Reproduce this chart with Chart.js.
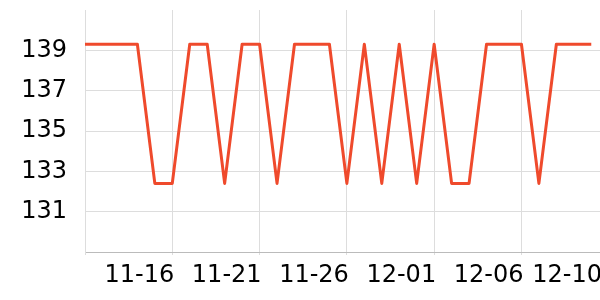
<!DOCTYPE html>
<html>
<head>
<meta charset="utf-8">
<script src="https://cdn.jsdelivr.net/npm/chart.js@4/dist/chart.umd.min.js"></script>
<style>
  html, body { margin: 0; padding: 0; background: #fff; }
</style>
</head>
<body>
<canvas id="priceChart" width="600" height="300"></canvas>
<script>
const dates = ["11-11", "11-12", "11-13", "11-14", "11-15", "11-16", "11-17", "11-18", "11-19", "11-20",
    "11-21", "11-22", "11-23", "11-24", "11-25", "11-26", "11-27", "11-28", "11-29", "11-30",
    "12-01", "12-02", "12-03", "12-04", "12-05", "12-06", "12-07", "12-08", "12-09", "12-10"]
const values = [139.3, 139.3, 139.3, 139.3, 132.4, 132.4, 139.3, 139.3, 132.4, 139.3,
    139.3, 132.4, 139.3, 139.3, 139.3, 132.4, 139.3, 132.4, 139.3, 132.4,
    139.3, 132.4, 132.4, 139.3, 139.3, 139.3, 132.4, 139.3, 139.3, 139.3]
const yTicks = [131, 133, 135, 137, 139]

const xMax = dates.length - 0.5
const lineColor = "#ef4a2c"

const ctx = document.getElementById('priceChart').getContext('2d');

// Store the chart instance on the canvas element
ctx.canvas.chart = new Chart(ctx, {
    type: 'line',
    data: {
        datasets: [{
            data: values.map((v, i) => ({x: i, y: v})),
            borderColor: lineColor,
            backgroundColor: lineColor,
            borderWidth: 3,
            borderJoinStyle: 'round',
            pointRadius: 0,
            tension: 0,
        }]
    },
    options: {
        responsive: false,
        animation: false,
        layout: {
            padding: {top: 10, right: 0, left: 0, bottom: 0}
        },
        plugins: {
            legend: {display: false},
            tooltip: {enabled: false},
        },
        scales: {
            x: {
                type: 'linear',
                min: 0,
                max: xMax,
                afterBuildTicks: (scale) => {
                    // a tick every 5 days, plus the last day at the right edge
                    const t = []
                    for (let i = 0; i < dates.length; i += 5) t.push({value: i})
                    t.push({value: xMax})
                    scale.ticks = t
                },
                afterFit: (scale) => {
                    scale.height = 48
                    scale.paddingLeft = 0
                    scale.paddingRight = 0
                },
                grid: {
                    color: (c) => (c.tick && c.tick.value === xMax) ? 'rgba(0,0,0,0)' : '#dddddd',
                    tickLength: 3,
                },
                border: {color: '#bbbbbb'},
                ticks: {
                    autoSkip: false,
                    maxRotation: 0,
                    align: 'end',
                    labelOffset: 2,
                    padding: 6,
                    color: '#000',
                    font: {family: 'DejaVu Sans', size: 24},
                    callback: (value) => {
                        if (value === xMax) return dates[dates.length - 1]
                        if (value === 0) return ''
                        return dates[value]
                    }
                }
            },
            y: {
                min: 129,
                max: 141,
                afterBuildTicks: (scale) => {
                    scale.ticks = yTicks.map(v => ({value: v}))
                },
                afterFit: (scale) => {
                    scale.width = 85
                    scale.paddingTop = 0
                    scale.paddingBottom = 0
                },
                grid: {
                    color: '#dddddd',
                    drawTicks: false,
                },
                border: {color: '#dddddd'},
                ticks: {
                    padding: 18,
                    color: '#000',
                    font: {family: 'DejaVu Sans', size: 24},
                }
            }
        }
    }
});
</script>
</body>
</html>
